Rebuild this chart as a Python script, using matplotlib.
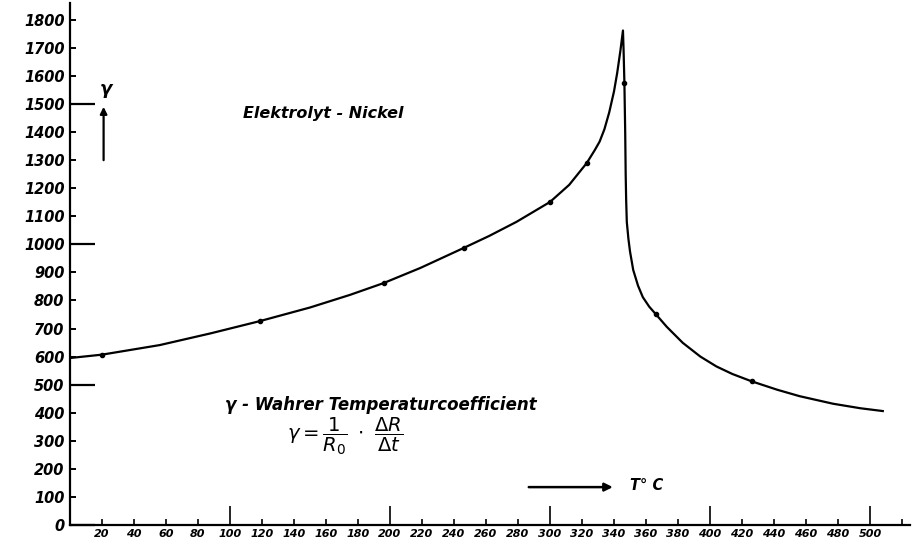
import matplotlib
matplotlib.use("Agg")
import matplotlib.pyplot as plt
from matplotlib.ticker import MultipleLocator, FuncFormatter

# curve: temperature (deg C) and gamma
temp = [0, 20, 56, 88, 119, 150, 175, 196, 219, 246, 262, 279, 300, 312, 323, 328,
        331, 334, 337, 340, 342, 344, 345.6,
        346, 346.5, 347, 347.3, 347.6, 348, 349, 350, 352, 355, 358, 362, 366, 373, 383,
        394, 404, 414, 426, 442, 456, 477, 494, 508]
gamma = [595, 607, 641, 683, 727, 775, 820, 862, 916, 987, 1030, 1080, 1151, 1212, 1290, 1336,
         1366, 1410, 1470, 1545, 1611, 1690, 1762,
         1690, 1575, 1400, 1250, 1158, 1080, 1020, 975, 909, 853, 812, 778, 752, 706, 649,
         600, 565, 538, 512, 482, 459, 432, 416, 406]

# measured points marked on the curve
pt_temp = [20, 119, 196, 246, 300, 323, 346.5, 366, 426]
pt_gamma = [607, 727, 862, 987, 1151, 1290, 1575, 752, 512]

y_labels = list(range(0, 1900, 100))
x_labels = list(range(20, 520, 20))

label_font = dict(fontstyle="italic", fontweight="bold", family="DejaVu Sans")

fig = plt.figure(figsize=(9.17, 5.45), dpi=100)
ax = fig.add_axes([70 / 917, 20 / 545, 840 / 917, 522 / 545])

ax.plot(temp, gamma, color="black", lw=1.6)
ax.plot(pt_temp, pt_gamma, "o", color="black", ms=3)

ax.set_xlim(0, 525)
ax.set_ylim(0, 1860)

for side in ["top", "right"]:
    ax.spines[side].set_visible(False)
for side in ["left", "bottom"]:
    ax.spines[side].set_linewidth(1.6)

ax.yaxis.set_major_locator(MultipleLocator(500))
ax.yaxis.set_minor_locator(MultipleLocator(100))
ax.xaxis.set_major_locator(MultipleLocator(100))
ax.xaxis.set_minor_locator(MultipleLocator(20))

yfmt = FuncFormatter(lambda v, p: f"{int(round(v))}" if round(v) in y_labels else "")
xfmt = FuncFormatter(lambda v, p: f"{int(round(v))}" if round(v) in x_labels else "")
ax.yaxis.set_major_formatter(yfmt)
ax.yaxis.set_minor_formatter(yfmt)
ax.xaxis.set_major_formatter(xfmt)
ax.xaxis.set_minor_formatter(xfmt)

ax.tick_params(axis="y", which="major", direction="in", length=18, width=1.6, pad=4)
ax.tick_params(axis="y", which="minor", direction="in", length=4, width=1.4, pad=4)
ax.tick_params(axis="x", which="major", direction="in", length=14, width=1.2, pad=3)
ax.tick_params(axis="x", which="minor", direction="in", length=4, width=1.2, pad=3)

for lab in ax.get_yticklabels(which="both"):
    lab.set_fontsize(10.5)
    lab.set(**label_font)
for lab in ax.get_xticklabels(which="both"):
    lab.set_fontsize(8)
    lab.set(**label_font)

# annotations
ax.text(158, 1468, "Elektrolyt - Nickel", ha="center", va="center", fontsize=11.5, **label_font)
ax.text(22.5, 1555, "γ", ha="center", va="center", fontsize=13, **label_font)
ax.annotate("", xy=(21, 1500), xytext=(21, 1290),
            arrowprops=dict(arrowstyle="-|>", color="black", lw=1.6, mutation_scale=10))
ax.text(97, 428, "γ - Wahrer Temperaturcoefficient", ha="left", va="center", fontsize=12,
        **label_font)
ax.text(172, 317, r"$\gamma = \dfrac{1}{R_0}\ \cdot\ \dfrac{\Delta R}{\Delta t}$",
        ha="center", va="center", fontsize=14)
ax.annotate("", xy=(341, 135), xytext=(285, 135),
            arrowprops=dict(arrowstyle="-|>", color="black", lw=1.8, mutation_scale=12))
ax.text(350, 140, "T° C", ha="left", va="center", fontsize=10.5, **label_font)

fig.savefig("out.png", dpi=100)
